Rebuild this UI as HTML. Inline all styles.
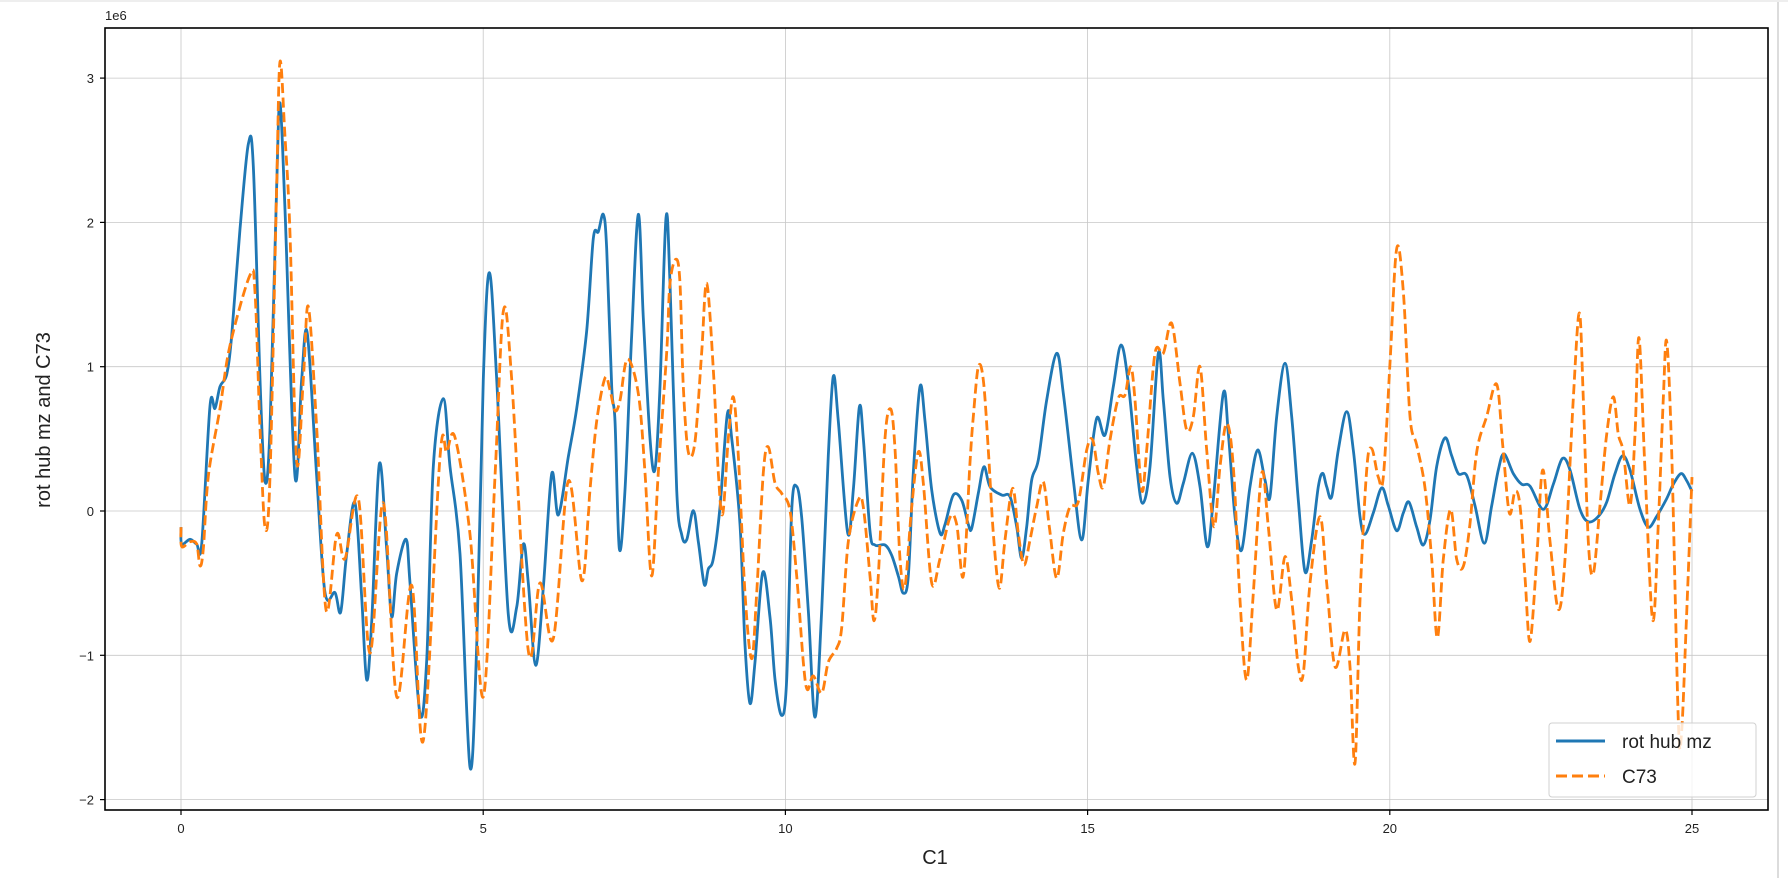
<!DOCTYPE html>
<html><head><meta charset="utf-8"><style>
html,body{margin:0;padding:0;background:#fff;}
svg{display:block;font-family:"Liberation Sans","DejaVu Sans",sans-serif;}
</style></head><body>
<svg id="s" width="1788" height="878" viewBox="0 0 1788 878" xmlns="http://www.w3.org/2000/svg">
<rect width="1788" height="878" fill="#fff"/>
<line x1="1778" y1="0" x2="1778" y2="878" stroke="#dcdcdc" stroke-width="2"/>
<line x1="0" y1="1" x2="1788" y2="1" stroke="#eeeeee" stroke-width="2"/>
<g id="grid" stroke="#b0b0b0" stroke-width="0.8" opacity="0.7"></g>
<g id="series"></g>
<rect x="105" y="28" width="1663" height="782" fill="none" stroke="#000" stroke-width="1.6"/>
<g id="ticks" font-size="13" fill="#222"></g>
<text x="105" y="20" font-size="13" fill="#222">1e6</text>
<text x="935" y="864" font-size="20" text-anchor="middle" fill="#222">C1</text>
<text transform="translate(50,420) rotate(-90)" font-size="20" text-anchor="middle" fill="#222">rot hub mz and C73</text>
<g>
<rect x="1549" y="723" width="207" height="74" rx="3" fill="#fff" fill-opacity="0.8" stroke="#d0d0d0" stroke-width="1"/>
<line x1="1556" y1="741" x2="1605" y2="741" stroke="#1f77b4" stroke-width="3"/>
<line x1="1556" y1="776" x2="1605" y2="776" stroke="#ff7f0e" stroke-width="3" stroke-dasharray="11,5"/>
<text x="1622" y="748" font-size="19" fill="#222">rot hub mz</text>
<text x="1622" y="783" font-size="19" fill="#222">C73</text>
</g>
</svg>
<script>
(function(){
var NS="http://www.w3.org/2000/svg";
function X(v){return 181+v*60.44;}
function Y(v){return 511-v*144.3;}
var g=document.getElementById('grid'),t=document.getElementById('ticks');
function el(p,tag,a,txt){var e=document.createElementNS(NS,tag);for(var k in a)e.setAttribute(k,a[k]);if(txt!=null)e.textContent=txt;p.appendChild(e);return e;}
for(var i=0;i<=25;i+=5){var x=X(i);el(g,'line',{x1:x,y1:28,x2:x,y2:810});
 el(t,'line',{x1:x,y1:810,x2:x,y2:815,stroke:'#000','stroke-width':1.2});
 el(t,'text',{x:x,y:833,'text-anchor':'middle'},String(i));}
for(var j=-2;j<=3;j++){var y=Y(j);el(g,'line',{x1:105,y1:y,x2:1768,y2:y});
 el(t,'line',{x1:100,y1:y,x2:105,y2:y,stroke:'#000','stroke-width':1.2});
 el(t,'text',{x:94,y:y+5,'text-anchor':'end'},j<0?'\u2212'+(-j):String(j));}
var Z={5:[170,40,2.063],6:[570,180,2.904],7:[960,300,3],8:[1350,220,2.8]};
function conv(list){var out=[],last=-1;list.forEach(function(seg){var z=Z[seg[0]];seg[1].forEach(function(p){var rx=z[0]+p[0]/3,ry=z[1]+p[1]/z[2];if(rx>last+0.5){out.push([rx,ry]);last=rx;}});});return out;}
var blue=conv([[5,[[33,1005],[35,1040],[60,1030],[80,1040],[95,1040],[120,755],[135,760],[150,715],[170,690],[185,610],[210,390],[235,215],[250,260],[270,700],[285,910],[300,800],[320,300],[330,130],[345,350],[375,900],[395,700],[412,605],[440,900],[465,1140],[495,1140],[512,1180],[530,1060],[555,955],[575,1150],[590,1320],[605,1200],[628,875],[650,1050],[665,1190],[680,1100],[708,1030],[720,1120],[750,1390],[770,1280],[790,880],[820,740],[840,880],[870,1060],[900,1500],[920,1250],[940,700],[958,480],[980,700],[1015,1185],[1040,1170],[1060,1040],[1075,1120],[1097,1290],[1120,1130],[1145,895],[1165,980],[1195,860],[1220,760],[1250,600]]],
[6,[[70,170],[85,150],[100,100],[110,200],[125,600],[135,700],[148,1070],[165,900],[185,450],[205,100],[220,400],[240,750],[255,840],[270,600],[288,110],[300,300],[320,900],[335,1030],[350,1045],[370,960],[385,1050],[403,1175],[415,1130],[430,1100],[450,950],[472,680],[485,750],[510,1000],[525,1350],[540,1520],[555,1400],[578,1140],[600,1270],[615,1450],[635,1555],[650,1450],[665,960],[680,890],[695,980],[715,1250],[735,1560],[755,1250],[775,800],[790,570],[805,700],[833,1025],[850,900],[868,660],[880,750],[900,1020],[915,1060],[945,1060],[965,1090],[985,1150],[1000,1200],[1015,1150],[1030,850],[1050,600],[1065,700],[1085,900],[1110,1025],[1125,1000],[1150,915],[1175,930],[1195,1000]]],
[7,[[35,685],[55,580],[72,500],[90,560],[125,585],[150,590],[170,680],[185,775],[200,680],[215,540],[235,480],[260,300],[290,160],[310,280],[340,540],[365,720],[385,540],[410,355],[435,405],[460,260],[483,135],[505,250],[530,500],[548,610],[570,500],[595,160],[610,300],[630,530],[650,610],[670,550],[697,460],[720,560],[742,740],[760,600],[790,280],[805,400],[825,650],[845,750],[870,560],[893,450],[915,540],[930,590],[950,350],[975,190],[995,350],[1015,600],[1035,815],[1055,720],[1075,560],[1088,520],[1100,560],[1115,590],[1135,450],[1160,335],[1180,450],[1200,650]]],
[8,[[45,880],[70,820],[95,750],[115,800],[140,870],[160,820],[177,790],[200,860],[220,910],[240,840],[260,690],[285,610],[305,660],[325,710],[350,715],[375,800],[403,905],[425,800],[445,700],[462,655],[490,710],[515,740],[540,745],[580,810],[610,740],[637,668],[660,700],[690,810],[715,845],[745,830],[770,790],[795,710],[818,660],[840,700],[870,810],[895,860],[920,830],[950,780],[970,740],[993,710],[1010,730],[1026,760]]]]);
var orange=conv([[5,[[33,1005],[35,1045],[60,1035],[80,1040],[90,1085],[100,1050],[115,900],[150,760],[180,630],[240,485],[255,520],[270,800],[285,1005],[300,900],[320,300],[330,45],[345,200],[360,400],[380,870],[400,700],[415,550],[440,800],[468,1175],[500,1020],[525,1070],[565,945],[600,1265],[640,955],[680,1355],[725,1125],[760,1445],[810,860],[830,850],[855,820],[900,1020],[940,1355],[975,900],[1000,560],[1025,700],[1075,1260],[1110,1120],[1150,1235],[1195,910],[1235,1115],[1255,980]]],
[6,[[60,900],[80,700],[105,575],[120,610],[135,670],[150,640],[172,520],[205,620],[225,850],[245,1150],[265,850],[290,500],[300,300],[318,230],[330,300],[340,600],[355,790],[375,760],[395,500],[410,300],[430,550],[445,850],[458,970],[475,750],[490,630],[505,800],[525,1200],[545,1390],[560,1200],[580,850],[595,775],[615,880],[635,910],[660,960],[680,1150],[700,1400],[712,1480],[730,1440],[755,1490],[775,1400],[800,1360],[815,1300],[835,1050],[865,930],[880,950],[900,1150],[912,1280],[925,1150],[945,750],[962,665],[975,780],[990,1100],[1005,1180],[1025,950],[1045,790],[1060,880],[1085,1170],[1110,1100],[1140,980],[1160,1000],[1180,1150],[1200,820]]],
[7,[[12,820],[25,650],[40,350],[55,200],[70,240],[85,450],[100,700],[118,865],[135,720],[158,565],[175,700],[192,795],[210,720],[230,620],[250,545],[268,680],[290,835],[310,700],[330,620],[355,605],[380,450],[398,420],[415,520],[430,560],[450,420],[475,295],[495,285],[512,200],[525,300],[545,570],[560,450],[585,160],[610,160],[635,70],[660,250],[680,390],[700,350],[720,200],[740,450],[762,680],[780,500],[800,370],[820,500],[840,900],[860,1140],[880,880],[905,520],[925,680],[950,930],[975,770],[995,900],[1015,1100],[1030,1120],[1050,850],[1080,650],[1100,850],[1125,1100],[1155,990],[1170,1100],[1185,1390],[1200,900]]],
[8,[[15,1520],[30,1000],[50,700],[65,640],[85,720],[100,720],[120,400],[140,80],[160,200],[180,550],[200,630],[225,750],[245,950],[262,1170],[280,950],[302,810],[320,950],[340,970],[360,850],[380,650],[410,550],[440,460],[458,630],[478,820],[495,760],[510,800],[525,1000],[540,1180],[560,950],[578,700],[600,900],[625,1090],[645,950],[670,500],[688,260],[700,500],[715,900],[730,990],[750,800],[770,600],[790,495],[805,600],[820,650],[840,800],[855,600],[867,330],[885,700],[908,1120],[925,850],[940,500],[950,340],[965,650],[985,1400],[995,1430],[1010,1100],[1026,720]]]]);
function path(p){var d='M'+p[0][0].toFixed(1)+','+p[0][1].toFixed(1);
 for(var i=0;i<p.length-1;i++){var p0=p[i-1]||p[i],p1=p[i],p2=p[i+1],p3=p[i+2]||p2;
  var c1x=p1[0]+(p2[0]-p0[0])/6,c1y=p1[1]+(p2[1]-p0[1])/6,c2x=p2[0]-(p3[0]-p1[0])/6,c2y=p2[1]-(p3[1]-p1[1])/6;
  d+='C'+c1x.toFixed(1)+','+c1y.toFixed(1)+' '+c2x.toFixed(1)+','+c2y.toFixed(1)+' '+p2[0].toFixed(1)+','+p2[1].toFixed(1);}
 return d;}
var s=document.getElementById('series');
el(s,'path',{d:path(blue),fill:'none',stroke:'#1f77b4','stroke-width':2.8,'stroke-linejoin':'round'});
el(s,'path',{d:path(orange),fill:'none',stroke:'#ff7f0e','stroke-width':2.8,'stroke-dasharray':'10,4.5'});
})();
</script>
</body></html>
